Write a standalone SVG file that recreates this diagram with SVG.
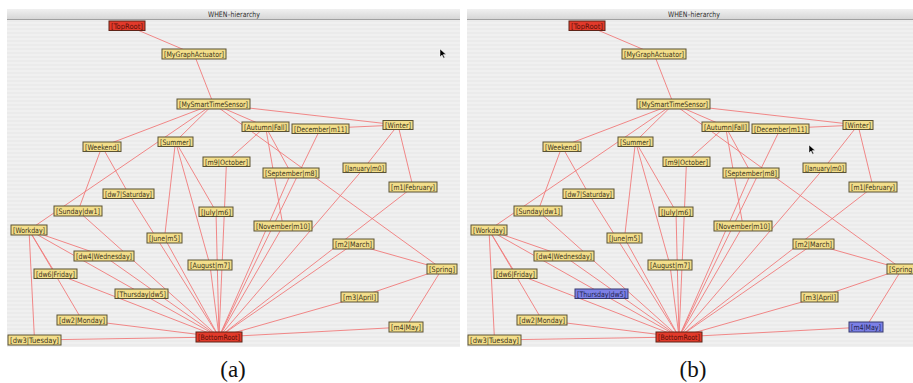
<svg xmlns="http://www.w3.org/2000/svg" xmlns:xlink="http://www.w3.org/1999/xlink" width="913" height="383" viewBox="0 0 913 383">
<defs>
<style>
.nd rect{fill:#f3de8a;stroke:#5a5234;stroke-width:1}
.nd.red rect{fill:#e23a2b;stroke:#5e2418}
.nd.blue rect{fill:#7c80e6;stroke:#363a6e}
.nd text{font-family:"DejaVu Sans","Liberation Sans",sans-serif;font-size:7.5px;fill:#3b3520}
.nd.red text{fill:#5a1008}
.nd.blue text{fill:#20224a}
.edges line{stroke:#f07a7a;stroke-width:0.9;fill:none}
.title{font-family:"DejaVu Sans","Liberation Sans",sans-serif;font-size:7.5px;fill:#303030}
.cap{font-family:"Liberation Serif","DejaVu Serif",serif;font-size:23px;fill:#111}
.cursor{fill:#000;stroke:#fff;stroke-width:0.5}
</style>
<linearGradient id="tb" x1="0" y1="0" x2="0" y2="1">
<stop offset="0" stop-color="#f0f0f0"/>
<stop offset="1" stop-color="#d4d4d4"/>
</linearGradient>
<pattern id="stripes" width="4" height="4" patternUnits="userSpaceOnUse">
<rect width="4" height="4" fill="#f0f0f0"/>
<rect width="4" height="2" fill="#ebebeb"/>
</pattern>
</defs>
<rect width="913" height="383" fill="#ffffff"/>

<!-- panel frames -->
<g id="frameA">
<rect x="7" y="20" width="453" height="327" fill="url(#stripes)"/>
<rect x="7" y="9" width="453" height="11" fill="url(#tb)"/>
<line x1="7" y1="19.5" x2="460" y2="19.5" stroke="#a0a0a0" stroke-width="1"/>
<text class="title" x="234" y="17" text-anchor="middle" textLength="52" lengthAdjust="spacingAndGlyphs">WHEN–hierarchy</text>
</g>
<g id="frameB">
<rect x="467" y="20" width="446" height="327" fill="url(#stripes)"/>
<rect x="467" y="9" width="446" height="11" fill="url(#tb)"/>
<line x1="467" y1="19.5" x2="913" y2="19.5" stroke="#a0a0a0" stroke-width="1"/>
<text class="title" x="694" y="17" text-anchor="middle" textLength="52" lengthAdjust="spacingAndGlyphs">WHEN–hierarchy</text>
</g>

<!-- Panel A -->
<g id="panelA">
<g class="edges" id="edgesA">
<line x1="127" y1="25.5" x2="194" y2="54"/>
<line x1="194" y1="54" x2="213.5" y2="104"/>
<line x1="213.5" y1="104" x2="102" y2="146.5"/>
<line x1="213.5" y1="104" x2="29" y2="230"/>
<line x1="213.5" y1="104" x2="175.5" y2="141.5"/>
<line x1="213.5" y1="104" x2="265.5" y2="126.5"/>
<line x1="213.5" y1="104" x2="398" y2="125"/>
<line x1="213.5" y1="104" x2="442" y2="269"/>
<line x1="102" y1="146.5" x2="78" y2="211"/>
<line x1="102" y1="146.5" x2="128.5" y2="193.5"/>
<line x1="29" y1="230" x2="82" y2="320"/>
<line x1="29" y1="230" x2="34.5" y2="340"/>
<line x1="29" y1="230" x2="104" y2="256"/>
<line x1="29" y1="230" x2="141.5" y2="293.5"/>
<line x1="29" y1="230" x2="55.5" y2="273.5"/>
<line x1="175.5" y1="141.5" x2="164.5" y2="238"/>
<line x1="175.5" y1="141.5" x2="216" y2="211.5"/>
<line x1="175.5" y1="141.5" x2="210" y2="265"/>
<line x1="265.5" y1="126.5" x2="291" y2="173"/>
<line x1="265.5" y1="126.5" x2="226.5" y2="161.5"/>
<line x1="265.5" y1="126.5" x2="283" y2="226"/>
<line x1="398" y1="125" x2="320.5" y2="128.5"/>
<line x1="398" y1="125" x2="364.5" y2="167.5"/>
<line x1="398" y1="125" x2="413" y2="187"/>
<line x1="442" y1="269" x2="353.5" y2="244"/>
<line x1="442" y1="269" x2="359.5" y2="297"/>
<line x1="442" y1="269" x2="406" y2="327"/>
<line x1="78" y1="211" x2="219" y2="337"/>
<line x1="128.5" y1="193.5" x2="219" y2="337"/>
<line x1="82" y1="320" x2="219" y2="337"/>
<line x1="34.5" y1="340" x2="219" y2="337"/>
<line x1="104" y1="256" x2="219" y2="337"/>
<line x1="141.5" y1="293.5" x2="219" y2="337"/>
<line x1="55.5" y1="273.5" x2="219" y2="337"/>
<line x1="164.5" y1="238" x2="219" y2="337"/>
<line x1="216" y1="211.5" x2="219" y2="337"/>
<line x1="210" y1="265" x2="219" y2="337"/>
<line x1="291" y1="173" x2="219" y2="337"/>
<line x1="226.5" y1="161.5" x2="219" y2="337"/>
<line x1="283" y1="226" x2="219" y2="337"/>
<line x1="320.5" y1="128.5" x2="219" y2="337"/>
<line x1="364.5" y1="167.5" x2="219" y2="337"/>
<line x1="413" y1="187" x2="219" y2="337"/>
<line x1="353.5" y1="244" x2="219" y2="337"/>
<line x1="359.5" y1="297" x2="219" y2="337"/>
<line x1="406" y1="327" x2="219" y2="337"/>
</g>
<g id="a-TopRoot" class="nd red"><rect x="109" y="21" width="36" height="9.5"/><text x="111" y="28.5" textLength="32" lengthAdjust="spacingAndGlyphs">[TopRoot]</text></g>
<g id="a-MyGraphActuator" class="nd"><rect x="162" y="49" width="64" height="10"/><text x="164" y="57" textLength="60" lengthAdjust="spacingAndGlyphs">[MyGraphActuator]</text></g>
<g id="a-MySmartTimeSensor" class="nd"><rect x="177" y="99" width="73" height="10"/><text x="179" y="107" textLength="69" lengthAdjust="spacingAndGlyphs">[MySmartTimeSensor]</text></g>
<g id="a-Weekend" class="nd"><rect x="83" y="142" width="38" height="9.5"/><text x="85" y="149.5" textLength="34" lengthAdjust="spacingAndGlyphs">[Weekend]</text></g>
<g id="a-Summer" class="nd"><rect x="158" y="137" width="35" height="9.5"/><text x="160" y="144.5" textLength="31" lengthAdjust="spacingAndGlyphs">[Summer]</text></g>
<g id="a-Autumn" class="nd"><rect x="242" y="122" width="47" height="9.5"/><text x="244" y="129.5" textLength="43" lengthAdjust="spacingAndGlyphs">[Autumn|Fall]</text></g>
<g id="a-December" class="nd"><rect x="292" y="124" width="57" height="9.5"/><text x="294" y="131.5" textLength="53" lengthAdjust="spacingAndGlyphs">[December|m11]</text></g>
<g id="a-Winter" class="nd"><rect x="383" y="120.5" width="30" height="9"/><text x="385" y="127.5" textLength="26" lengthAdjust="spacingAndGlyphs">[Winter]</text></g>
<g id="a-October" class="nd"><rect x="203" y="157" width="47" height="9.5"/><text x="205" y="164.5" textLength="43" lengthAdjust="spacingAndGlyphs">[m9|October]</text></g>
<g id="a-Saturday" class="nd"><rect x="103" y="189" width="51" height="9.5"/><text x="105" y="196.5" textLength="47" lengthAdjust="spacingAndGlyphs">[dw7|Saturday]</text></g>
<g id="a-Sunday" class="nd"><rect x="54" y="206" width="48" height="10"/><text x="56" y="214" textLength="44" lengthAdjust="spacingAndGlyphs">[Sunday|dw1]</text></g>
<g id="a-July" class="nd"><rect x="199" y="207" width="34" height="9.5"/><text x="201" y="214.5" textLength="30" lengthAdjust="spacingAndGlyphs">[July|m6]</text></g>
<g id="a-September" class="nd"><rect x="263" y="168" width="56" height="10"/><text x="265" y="176" textLength="52" lengthAdjust="spacingAndGlyphs">[September|m8]</text></g>
<g id="a-January" class="nd"><rect x="343" y="163" width="43" height="9.5"/><text x="345" y="170.5" textLength="39" lengthAdjust="spacingAndGlyphs">[January|m0]</text></g>
<g id="a-February" class="nd"><rect x="389" y="182" width="48" height="10"/><text x="391" y="190" textLength="44" lengthAdjust="spacingAndGlyphs">[m1|February]</text></g>
<g id="a-Workday" class="nd"><rect x="11" y="225" width="36" height="10"/><text x="13" y="233" textLength="32" lengthAdjust="spacingAndGlyphs">[Workday]</text></g>
<g id="a-June" class="nd"><rect x="147" y="233" width="35" height="10"/><text x="149" y="241" textLength="31" lengthAdjust="spacingAndGlyphs">[June|m5]</text></g>
<g id="a-November" class="nd"><rect x="254" y="221" width="58" height="10"/><text x="256" y="229" textLength="54" lengthAdjust="spacingAndGlyphs">[November|m10]</text></g>
<g id="a-March" class="nd"><rect x="333" y="239" width="41" height="10"/><text x="335" y="247" textLength="37" lengthAdjust="spacingAndGlyphs">[m2|March]</text></g>
<g id="a-Wednesday" class="nd"><rect x="74" y="251" width="60" height="10"/><text x="76" y="259" textLength="56" lengthAdjust="spacingAndGlyphs">[dw4|Wednesday]</text></g>
<g id="a-August" class="nd"><rect x="188" y="260" width="44" height="10"/><text x="190" y="268" textLength="40" lengthAdjust="spacingAndGlyphs">[August|m7]</text></g>
<g id="a-Spring" class="nd"><rect x="427" y="264" width="30" height="10"/><text x="429" y="272" textLength="26" lengthAdjust="spacingAndGlyphs">[Spring]</text></g>
<g id="a-Friday" class="nd"><rect x="34" y="269" width="43" height="9.5"/><text x="36" y="276.5" textLength="39" lengthAdjust="spacingAndGlyphs">[dw6|Friday]</text></g>
<g id="a-Thursday" class="nd"><rect x="115" y="289" width="53" height="9.5"/><text x="117" y="296.5" textLength="49" lengthAdjust="spacingAndGlyphs">[Thursday|dw5]</text></g>
<g id="a-April" class="nd"><rect x="341" y="292" width="37" height="10"/><text x="343" y="300" textLength="33" lengthAdjust="spacingAndGlyphs">[m3|April]</text></g>
<g id="a-Monday" class="nd"><rect x="57" y="315" width="50" height="10"/><text x="59" y="323" textLength="46" lengthAdjust="spacingAndGlyphs">[dw2|Monday]</text></g>
<g id="a-May" class="nd"><rect x="389" y="322" width="34" height="10"/><text x="391" y="330" textLength="30" lengthAdjust="spacingAndGlyphs">[m4|May]</text></g>
<g id="a-BottomRoot" class="nd red"><rect x="196" y="332" width="46" height="10"/><text x="198" y="340" textLength="42" lengthAdjust="spacingAndGlyphs">[BottomRoot]</text></g>
<g id="a-Tuesday" class="nd"><rect x="8" y="335" width="53" height="10"/><text x="10" y="343" textLength="49" lengthAdjust="spacingAndGlyphs">[dw3|Tuesday]</text></g>
<path class="cursor" d="M440,49 v8 l2,-2 l1.6,3.2 l1.2,-0.6 l-1.6,-3 h3 z"/>
</g>

<!-- Panel B -->
<g id="panelB" transform="translate(460,0)">
<g class="edges" id="edgesB">
<line x1="127" y1="25.5" x2="194" y2="54"/>
<line x1="194" y1="54" x2="213.5" y2="104"/>
<line x1="213.5" y1="104" x2="102" y2="146.5"/>
<line x1="213.5" y1="104" x2="29" y2="230"/>
<line x1="213.5" y1="104" x2="175.5" y2="141.5"/>
<line x1="213.5" y1="104" x2="265.5" y2="126.5"/>
<line x1="213.5" y1="104" x2="398" y2="125"/>
<line x1="213.5" y1="104" x2="442" y2="269"/>
<line x1="102" y1="146.5" x2="78" y2="211"/>
<line x1="102" y1="146.5" x2="128.5" y2="193.5"/>
<line x1="29" y1="230" x2="82" y2="320"/>
<line x1="29" y1="230" x2="34.5" y2="340"/>
<line x1="29" y1="230" x2="104" y2="256"/>
<line x1="29" y1="230" x2="141.5" y2="293.5"/>
<line x1="29" y1="230" x2="55.5" y2="273.5"/>
<line x1="175.5" y1="141.5" x2="164.5" y2="238"/>
<line x1="175.5" y1="141.5" x2="216" y2="211.5"/>
<line x1="175.5" y1="141.5" x2="210" y2="265"/>
<line x1="265.5" y1="126.5" x2="291" y2="173"/>
<line x1="265.5" y1="126.5" x2="226.5" y2="161.5"/>
<line x1="265.5" y1="126.5" x2="283" y2="226"/>
<line x1="398" y1="125" x2="320.5" y2="128.5"/>
<line x1="398" y1="125" x2="364.5" y2="167.5"/>
<line x1="398" y1="125" x2="413" y2="187"/>
<line x1="442" y1="269" x2="353.5" y2="244"/>
<line x1="442" y1="269" x2="359.5" y2="297"/>
<line x1="442" y1="269" x2="406" y2="327"/>
<line x1="78" y1="211" x2="219" y2="337"/>
<line x1="128.5" y1="193.5" x2="219" y2="337"/>
<line x1="82" y1="320" x2="219" y2="337"/>
<line x1="34.5" y1="340" x2="219" y2="337"/>
<line x1="104" y1="256" x2="219" y2="337"/>
<line x1="141.5" y1="293.5" x2="219" y2="337"/>
<line x1="55.5" y1="273.5" x2="219" y2="337"/>
<line x1="164.5" y1="238" x2="219" y2="337"/>
<line x1="216" y1="211.5" x2="219" y2="337"/>
<line x1="210" y1="265" x2="219" y2="337"/>
<line x1="291" y1="173" x2="219" y2="337"/>
<line x1="226.5" y1="161.5" x2="219" y2="337"/>
<line x1="283" y1="226" x2="219" y2="337"/>
<line x1="320.5" y1="128.5" x2="219" y2="337"/>
<line x1="364.5" y1="167.5" x2="219" y2="337"/>
<line x1="413" y1="187" x2="219" y2="337"/>
<line x1="353.5" y1="244" x2="219" y2="337"/>
<line x1="359.5" y1="297" x2="219" y2="337"/>
<line x1="406" y1="327" x2="219" y2="337"/>
</g>
<g id="b-TopRoot" class="nd red"><rect x="109" y="21" width="36" height="9.5"/><text x="111" y="28.5" textLength="32" lengthAdjust="spacingAndGlyphs">[TopRoot]</text></g>
<g id="b-MyGraphActuator" class="nd"><rect x="162" y="49" width="64" height="10"/><text x="164" y="57" textLength="60" lengthAdjust="spacingAndGlyphs">[MyGraphActuator]</text></g>
<g id="b-MySmartTimeSensor" class="nd"><rect x="177" y="99" width="73" height="10"/><text x="179" y="107" textLength="69" lengthAdjust="spacingAndGlyphs">[MySmartTimeSensor]</text></g>
<g id="b-Weekend" class="nd"><rect x="83" y="142" width="38" height="9.5"/><text x="85" y="149.5" textLength="34" lengthAdjust="spacingAndGlyphs">[Weekend]</text></g>
<g id="b-Summer" class="nd"><rect x="158" y="137" width="35" height="9.5"/><text x="160" y="144.5" textLength="31" lengthAdjust="spacingAndGlyphs">[Summer]</text></g>
<g id="b-Autumn" class="nd"><rect x="242" y="122" width="47" height="9.5"/><text x="244" y="129.5" textLength="43" lengthAdjust="spacingAndGlyphs">[Autumn|Fall]</text></g>
<g id="b-December" class="nd"><rect x="292" y="124" width="57" height="9.5"/><text x="294" y="131.5" textLength="53" lengthAdjust="spacingAndGlyphs">[December|m11]</text></g>
<g id="b-Winter" class="nd"><rect x="383" y="120.5" width="30" height="9"/><text x="385" y="127.5" textLength="26" lengthAdjust="spacingAndGlyphs">[Winter]</text></g>
<g id="b-October" class="nd"><rect x="203" y="157" width="47" height="9.5"/><text x="205" y="164.5" textLength="43" lengthAdjust="spacingAndGlyphs">[m9|October]</text></g>
<g id="b-Saturday" class="nd"><rect x="103" y="189" width="51" height="9.5"/><text x="105" y="196.5" textLength="47" lengthAdjust="spacingAndGlyphs">[dw7|Saturday]</text></g>
<g id="b-Sunday" class="nd"><rect x="54" y="206" width="48" height="10"/><text x="56" y="214" textLength="44" lengthAdjust="spacingAndGlyphs">[Sunday|dw1]</text></g>
<g id="b-July" class="nd"><rect x="199" y="207" width="34" height="9.5"/><text x="201" y="214.5" textLength="30" lengthAdjust="spacingAndGlyphs">[July|m6]</text></g>
<g id="b-September" class="nd"><rect x="263" y="168" width="56" height="10"/><text x="265" y="176" textLength="52" lengthAdjust="spacingAndGlyphs">[September|m8]</text></g>
<g id="b-January" class="nd"><rect x="343" y="163" width="43" height="9.5"/><text x="345" y="170.5" textLength="39" lengthAdjust="spacingAndGlyphs">[January|m0]</text></g>
<g id="b-February" class="nd"><rect x="389" y="182" width="48" height="10"/><text x="391" y="190" textLength="44" lengthAdjust="spacingAndGlyphs">[m1|February]</text></g>
<g id="b-Workday" class="nd"><rect x="11" y="225" width="36" height="10"/><text x="13" y="233" textLength="32" lengthAdjust="spacingAndGlyphs">[Workday]</text></g>
<g id="b-June" class="nd"><rect x="147" y="233" width="35" height="10"/><text x="149" y="241" textLength="31" lengthAdjust="spacingAndGlyphs">[June|m5]</text></g>
<g id="b-November" class="nd"><rect x="254" y="221" width="58" height="10"/><text x="256" y="229" textLength="54" lengthAdjust="spacingAndGlyphs">[November|m10]</text></g>
<g id="b-March" class="nd"><rect x="333" y="239" width="41" height="10"/><text x="335" y="247" textLength="37" lengthAdjust="spacingAndGlyphs">[m2|March]</text></g>
<g id="b-Wednesday" class="nd"><rect x="74" y="251" width="60" height="10"/><text x="76" y="259" textLength="56" lengthAdjust="spacingAndGlyphs">[dw4|Wednesday]</text></g>
<g id="b-August" class="nd"><rect x="188" y="260" width="44" height="10"/><text x="190" y="268" textLength="40" lengthAdjust="spacingAndGlyphs">[August|m7]</text></g>
<g id="b-Spring" class="nd"><rect x="427" y="264" width="30" height="10"/><text x="429" y="272" textLength="26" lengthAdjust="spacingAndGlyphs">[Spring]</text></g>
<g id="b-Friday" class="nd"><rect x="34" y="269" width="43" height="9.5"/><text x="36" y="276.5" textLength="39" lengthAdjust="spacingAndGlyphs">[dw6|Friday]</text></g>
<g id="b-Thursday" class="nd blue"><rect x="115" y="289" width="53" height="9.5"/><text x="117" y="296.5" textLength="49" lengthAdjust="spacingAndGlyphs">[Thursday|dw5]</text></g>
<g id="b-April" class="nd"><rect x="341" y="292" width="37" height="10"/><text x="343" y="300" textLength="33" lengthAdjust="spacingAndGlyphs">[m3|April]</text></g>
<g id="b-Monday" class="nd"><rect x="57" y="315" width="50" height="10"/><text x="59" y="323" textLength="46" lengthAdjust="spacingAndGlyphs">[dw2|Monday]</text></g>
<g id="b-May" class="nd blue"><rect x="389" y="322" width="34" height="10"/><text x="391" y="330" textLength="30" lengthAdjust="spacingAndGlyphs">[m4|May]</text></g>
<g id="b-BottomRoot" class="nd red"><rect x="196" y="332" width="46" height="10"/><text x="198" y="340" textLength="42" lengthAdjust="spacingAndGlyphs">[BottomRoot]</text></g>
<g id="b-Tuesday" class="nd"><rect x="8" y="335" width="53" height="10"/><text x="10" y="343" textLength="49" lengthAdjust="spacingAndGlyphs">[dw3|Tuesday]</text></g>
<path class="cursor" d="M349,145 v8 l2,-2 l1.6,3.2 l1.2,-0.6 l-1.6,-3 h3 z"/>
</g>

<text class="cap" x="233" y="377" text-anchor="middle">(a)</text>
<text class="cap" x="693" y="377" text-anchor="middle">(b)</text>
</svg>
